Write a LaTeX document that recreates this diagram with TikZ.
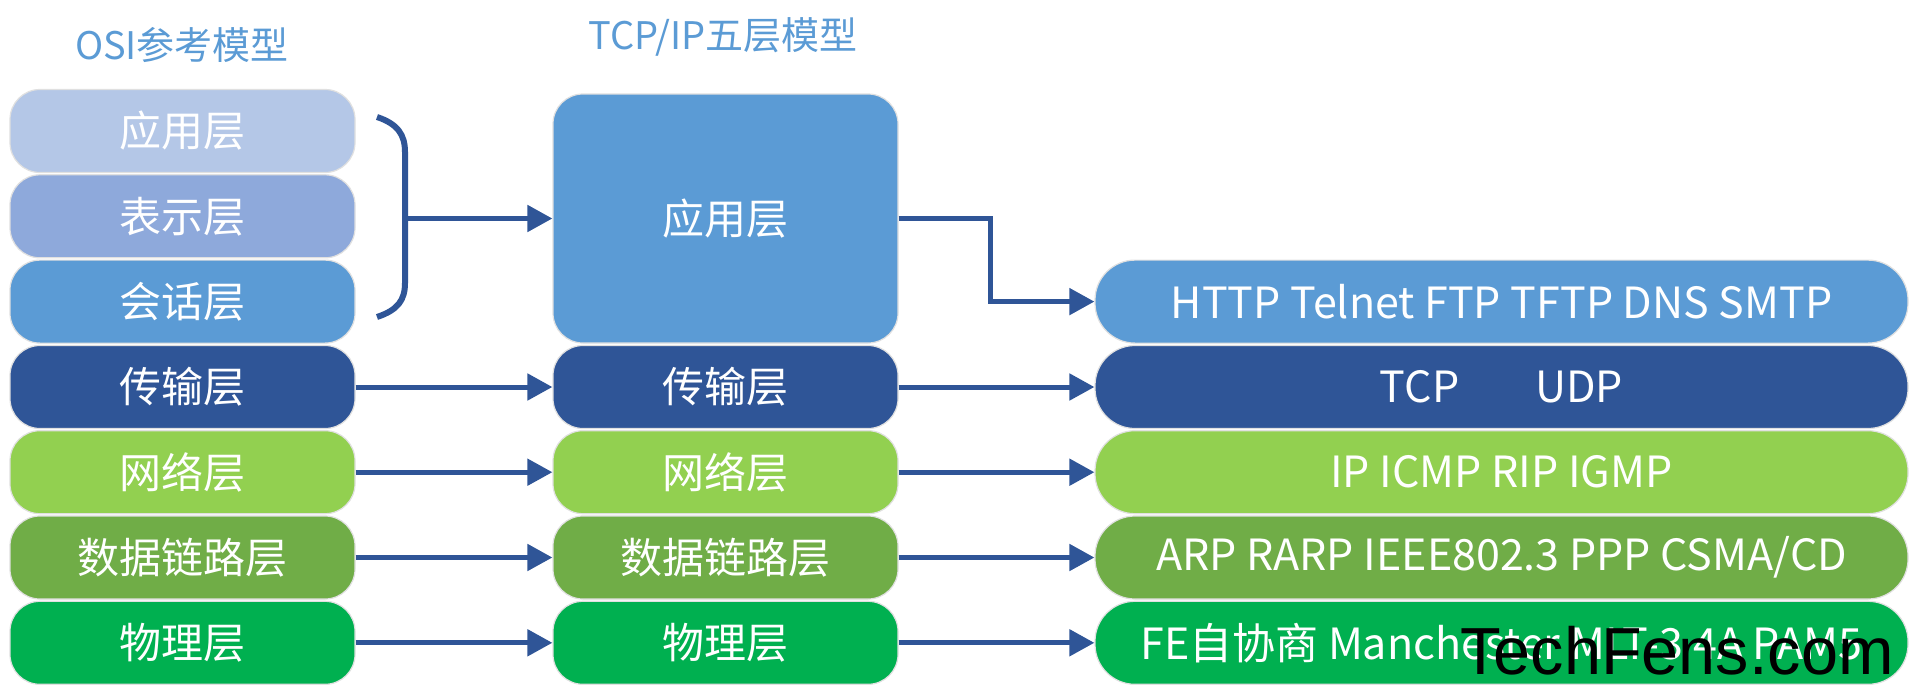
\documentclass[tikz,border=0pt]{standalone}
\usepackage{fontspec}
\setmainfont{Noto Sans CJK SC}
\newfontfamily\wmfont{Liberation Sans}
\usetikzlibrary{arrows.meta}
\definecolor{cA}{HTML}{B4C7E7}
\definecolor{cB}{HTML}{8EA9DB}
\definecolor{cC}{HTML}{5B9BD5}
\definecolor{cD}{HTML}{2F5597}
\definecolor{cE}{HTML}{92D050}
\definecolor{cF}{HTML}{70AD47}
\definecolor{cG}{HTML}{00B050}
\definecolor{arrowc}{HTML}{2F5597}
\definecolor{titlec}{HTML}{5B9BD5}
\tikzset{
  layer/.style={rectangle, rounded corners=15pt, draw=black!12, line width=0.6pt,
    minimum width=172.5pt, minimum height=41.5pt, inner sep=0pt,
    text=white, font=\fontsize{21pt}{24pt}\selectfont},
  proto/.style={layer, rounded corners=20pt, minimum width=406.5pt,
    font=\fontsize{21.5pt}{24pt}\selectfont},
  title/.style={text=titlec, font=\fontsize{19pt}{22pt}\selectfont, inner sep=0pt},
  arr/.style={draw=arrowc, line width=2.5pt, -{Triangle[length=12.5pt,width=13pt]}},
  brace/.style={draw=arrowc, line width=3pt}
}
\begin{document}
\begin{tikzpicture}[x=0.5pt,y=-0.5pt]
\useasboundingbox[fill=white] (0,0) rectangle (1920,696);
% titles
\node[title] (t1) at (182,45) {OSI参考模型};
\node[title] (t2) at (723,37) {TCP/IP五层模型};
% OSI column
\node[layer, fill=cA] (o1) at (182.5,131) {应用层};
\node[layer, fill=cB] (o2) at (182.5,216.3) {表示层};
\node[layer, fill=cC] (o3) at (182.5,301.6) {会话层};
\node[layer, fill=cD] (o4) at (182.5,387) {传输层};
\node[layer, fill=cE] (o5) at (182.5,472.2) {网络层};
\node[layer, fill=cF] (o6) at (182.5,557.5) {数据链路层};
\node[layer, fill=cG] (o7) at (182.5,642.8) {物理层};
% TCP/IP column
\node[layer, fill=cC, minimum height=124.5pt] (m1) at (725.5,218.5) {应用层};
\node[layer, fill=cD] (m4) at (725.5,387) {传输层};
\node[layer, fill=cE] (m5) at (725.5,472.2) {网络层};
\node[layer, fill=cF] (m6) at (725.5,557.5) {数据链路层};
\node[layer, fill=cG] (m7) at (725.5,642.8) {物理层};
% protocols column
\node[proto, fill=cC] (p1) at (1501.5,301.6) {HTTP Telnet FTP TFTP DNS SMTP};
\node[proto, fill=cD] (p4) at (1501.5,387) {TCP\hspace{38pt}UDP};
\node[proto, fill=cE] (p5) at (1501.5,472.2) {IP ICMP RIP IGMP};
\node[proto, fill=cF] (p6) at (1501.5,557.5) {ARP RARP IEEE802.3 PPP CSMA/CD};
\node[proto, fill=cG] (p7) at (1501.5,642.8) {FE自协商 Manchester MLT-3 4A PAM5};
% brace
\coordinate (btop) at (377,117);
\coordinate (bbot) at (377,317);
\coordinate (btip) at (405,218.5);
\draw[brace] (btop) .. controls (398,124) and (405,135) .. (405,152) -- (405,283)
  .. controls (405,300) and (398,310) .. (bbot);
\draw[arr] (btip) -- (m1.west);
% elbow connector
\coordinate (elbx) at (990,0);
\draw[arr] (m1.east) -- (m1.east -| elbx) |- (p1.west);
% row arrows
\foreach \r in {4,5,6,7}{
  \draw[arr] (o\r.east) -- (m\r.west);
  \draw[arr] (m\r.east) -- (p\r.west);
}
% watermark
\node[inner sep=0pt, text=black, font=\wmfont\fontsize{33.3pt}{36pt}\selectfont] (wm) at (1677,651) {TechFens.com};
\end{tikzpicture}
\end{document}
